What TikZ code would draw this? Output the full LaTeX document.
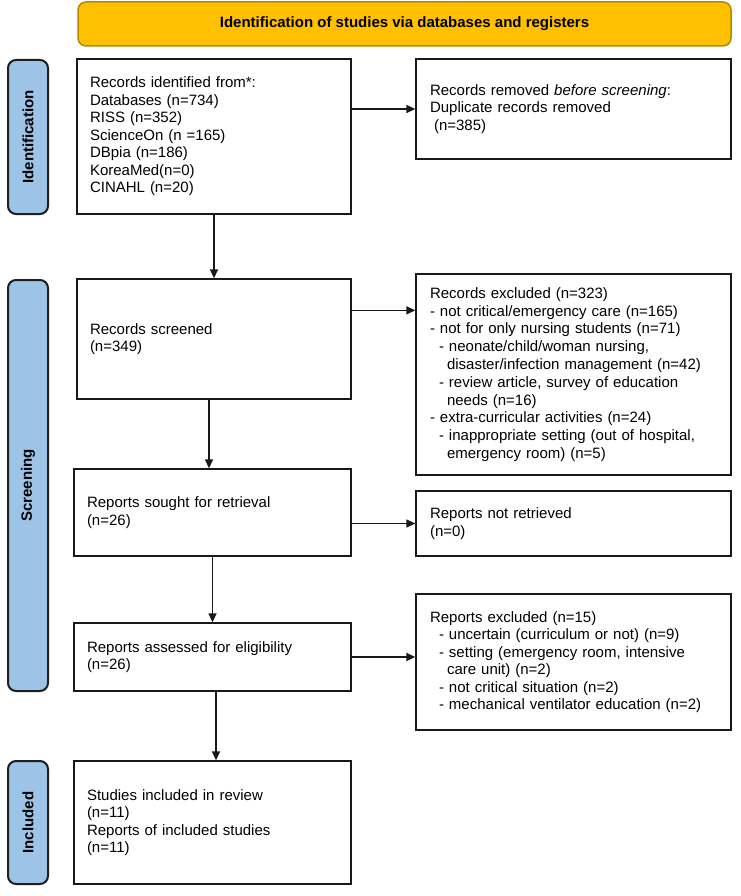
\documentclass[tikz,border=0pt]{standalone}
\usepackage{fontspec}
\setmainfont{Liberation Sans}
\usetikzlibrary{arrows.meta,calc}
\definecolor{hdrfill}{RGB}{255,192,0}
\definecolor{hdrdraw}{RGB}{180,136,0}
\definecolor{barfill}{RGB}{157,195,230}
\definecolor{bardraw}{RGB}{30,30,30}
\definecolor{boxdraw}{RGB}{25,25,25}
\tikzset{
  box/.style={draw=boxdraw, line width=1.3pt, fill=white, inner xsep=13pt, inner ysep=0pt,
    align=left, font=\fontsize{15}{17.5}\selectfont},
  rbox/.style={box, inner xsep=14pt, minimum width=315pt, text width=287pt},
  lboxa/.style={box, minimum width=274pt, text width=248pt},
  lboxb/.style={box, minimum width=277pt, text width=251pt},
  arr/.style={draw=boxdraw, line width=1.3pt, -{Triangle[length=9pt,width=8pt]}},
  bar/.style={draw=bardraw, line width=2pt, fill=barfill, rounded corners=8pt, rotate=90,
    minimum height=40pt, inner sep=0pt, font=\bfseries\fontsize{15}{18}\selectfont},
  hdr/.style={draw=hdrdraw, line width=1.5pt, fill=hdrfill, rounded corners=8pt,
    minimum width=653pt, minimum height=44pt, font=\bfseries\fontsize{15}{18}\selectfont},
}
\begin{document}
\begin{tikzpicture}[x=1pt,y=-1pt]
\useasboundingbox (0,0) rectangle (740,896);

\node[hdr] (hdr) at (404.5,24) {Identification of studies via databases and registers};

\node[bar, minimum width=154pt] (idbar) at (28,137) {Identification};
\node[bar, minimum width=411pt] (scrbar) at (28,485.5) {Screening};
\node[bar, minimum width=123pt] (incbar) at (28,822.5) {Included};

\node[lboxa, minimum height=155pt] (ident) at (214,136.5) {Records identified from*:\\Databases (n=734)\\RISS (n=352)\\ScienceOn (n =165)\\DBpia (n=186)\\KoreaMed(n=0)\\CINAHL (n=20)};

\node[rbox, minimum height=100pt] (removed) at (573.5,109) {Records removed \textit{before screening}:\\Duplicate records removed\\\hspace*{4pt}(n=385)};

\node[lboxa, minimum height=120pt] (screened) at (214,339) {Records screened\\(n=349)};

\node[rbox, minimum height=201pt, font=\fontsize{15}{17.8}\selectfont] (excluded) at (573.5,374.5) {Records excluded (n=323)\\
- not critical/emergency care (n=165)\\
- not for only nursing students (n=71)\\
\hspace*{9pt}- neonate/child/woman nursing,\\
\hspace*{17pt}disaster/infection management (n=42)\\
\hspace*{9pt}- review article, survey of education\\
\hspace*{17pt}needs (n=16)\\
- extra-curricular activities (n=24)\\
\hspace*{9pt}- inappropriate setting (out of hospital,\\
\hspace*{17pt}emergency room) (n=5)};

\node[lboxb, minimum height=87pt] (sought) at (212.5,512.5) {Reports sought for retrieval\\(n=26)};

\node[rbox, minimum height=65pt] (notret) at (573.5,523.5) {Reports not retrieved\\(n=0)};

\node[lboxb, minimum height=68pt] (assessed) at (212.5,657) {Reports assessed for eligibility\\(n=26)};

\node[rbox, minimum height=136pt] (repexcl) at (573.5,662) {Reports excluded (n=15)\\
\hspace*{9pt}- uncertain (curriculum or not) (n=9)\\
\hspace*{9pt}- setting (emergency room, intensive\\
\hspace*{17pt}care unit) (n=2)\\
\hspace*{9pt}- not critical situation (n=2)\\
\hspace*{9pt}- mechanical ventilator education (n=2)};

\node[lboxb, minimum height=123pt] (included) at (212.5,822.5) {Studies included in review\\(n=11)\\Reports of included studies\\(n=11)};

\draw[arr] (ident.east |- removed.west) -- (removed.west);
\draw[arr] (ident.south) -- (ident.south |- screened.north);
\draw[arr] ([yshift=-32pt]screened.north east) -- ([yshift=-32pt]screened.north east -| excluded.west);
\draw[arr] ([xshift=-5pt]screened.south) -- ([xshift=-5pt]screened.south |- sought.north);
\draw[arr] (sought.east |- notret.west) -- (notret.west);
\draw[arr] (sought.south) -- (sought.south |- assessed.north);
\draw[arr] (assessed.east) -- (assessed.east -| repexcl.west);
\draw[arr] ([xshift=3.5pt]assessed.south) -- ([xshift=3.5pt]assessed.south |- included.north);
\end{tikzpicture}
\end{document}
